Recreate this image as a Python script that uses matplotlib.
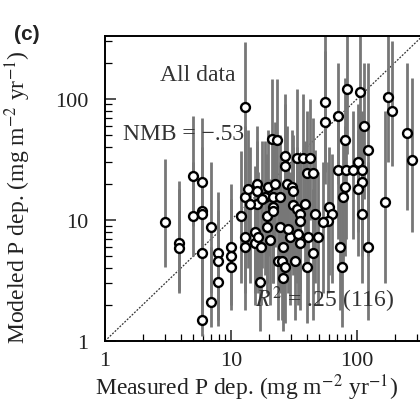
import numpy as np
import matplotlib
matplotlib.use("Agg")
import matplotlib.pyplot as plt

# measured vs modeled P deposition (mg m-2 yr-1), with model range per site
meas = [3.0, 3.9, 3.9, 5.0, 5.0, 5.9, 5.9, 5.9, 5.9, 5.9, 6.9, 6.9, 7.9, 7.9, 7.9,
        10, 10, 10, 12, 12.9, 12.9, 12.9, 12.9,
        13.6, 16.1, 16.1, 16.1, 18.6, 19.7, 21.5, 21.5, 22.4, 19.3, 19.3, 15.5, 15.5,
        16.4, 17.3, 20.4, 21, 23, 17.0, 23.6, 24.5, 21.5,
        26.8, 26.8, 33.4, 37.3, 42.4, 40.1, 44.8, 27.8, 30.5, 31.0, 31.0, 33.4, 35.3,
        35.3, 29.4, 34.0, 35.3, 40.8, 49, 25.9, 44.8, 25.4, 26.8, 32.2, 40.1, 25.9,
        55.7, 55.7, 70.7, 83.3, 106, 80.3, 70.7, 81.8, 80.3, 77.4, 60, 63.4, 58.9,
        53.7, 73.3, 76, 114, 122, 102, 93, 110, 110, 102, 110, 122, 176, 190, 167,
        249, 273,
        17.6, 14.2, 24.5, 28.4, 38.6, 46.4]
model = [9.7, 6.4, 5.9, 23, 10.8, 20.6, 11.9, 11.3, 5.3, 1.5, 8.8, 2.1, 5.3, 4.6, 3.1,
         6.0, 5.0, 4.1, 10.8, 86, 15.5, 7.3, 6.0,
         18, 20, 17.2, 13.6, 15.5, 18.7, 15.5, 12.9, 20, 10.8, 8.8, 8.0, 6.4,
         7.3, 6.0, 6.8, 46.7, 45.4, 3.1, 4.6, 15.5, 11.9,
         33.8, 27.9, 32.5, 32.5, 32.5, 24.5, 24.5, 20, 18.7, 17.2, 13.4, 12.3, 11.3,
         9.8, 7.3, 7.7, 6.4, 7.3, 7.3, 6.0, 5.3, 4.6, 4.1, 4.6, 4.1, 3.3,
         94, 64.6, 72, 121, 114, 45.4, 25.7, 25.7, 18.7, 15.5, 12.9, 11.3, 9.8,
         9.7, 6.0, 4.1, 59.8, 37.9, 30.2, 25.7, 25.7, 20.6, 18, 11.3, 6.0, 104, 80, 14.2,
         52.4, 31.3,
         14.9, 13.6, 8.8, 8.4, 13.6, 11.3]
model_lo = [4.1, 2.5, 2.6, 9, 5.0, 7, 4, 3, 1.6, 1.1, 2.5, 1.3, 2.0, 1.5, 1.33,
            2.2, 1.8, 2.0, 3, 20, 3, 2.5, 1.8,
            4, 5, 4, 3, 3.5, 5, 4, 3, 6, 3, 2.5, 2.5, 2,
            2.5, 2, 2, 12, 14, 1.2, 1.5, 4, 3,
            10, 8, 9, 9, 10, 7, 6, 5, 5, 4, 3.5, 3, 3,
            2.5, 2, 2, 1.8, 2, 2, 1.8, 1.5, 1.5, 1.4, 1.5, 1.4, 1.2,
            25, 20, 20, 35, 30, 12, 7, 7, 5, 4, 3.5, 3, 2.5,
            2.5, 1.8, 1.3, 15, 5, 8, 7, 7, 5, 5, 3, 1.5, 30, 28, 3,
            12, 8,
            4, 3, 2.5, 2.5, 4, 3]
model_hi = [32, 21, 18, 72, 30, 70, 40, 28, 14, 4, 30, 6, 17, 12, 8,
            20, 15, 12, 37, 296, 60, 30, 25,
            55, 60, 45, 40, 45, 55, 50, 38, 65, 35, 30, 28, 22,
            25, 20, 22, 146, 146, 8, 15, 50, 35,
            110, 90, 120, 110, 100, 80, 70, 60, 55, 50, 40, 40, 35,
            30, 25, 25, 22, 25, 25, 20, 18, 15, 14, 15, 14, 10,
            330, 250, 200, 330, 330, 150, 80, 80, 60, 50, 40, 35, 30,
            30, 20, 14, 200, 200, 90, 80, 80, 60, 55, 35, 30, 330, 300, 80,
            200, 150,
            45, 40, 30, 28, 45, 38]

plt.rcParams['font.family'] = ['Liberation Serif', 'DejaVu Serif']
plt.rcParams['mathtext.fontset'] = 'stix'

fig = plt.figure(figsize=(4.2, 4.06), dpi=100)
ax_w = 0.77
ax = fig.add_axes([0.25, 0.1576, ax_w, 0.7512])

ax.set_xscale('log')
ax.set_yscale('log')
ax.set_xlim(1, 10 ** (ax_w * 420 / 126))
ax.set_ylim(1, 331)

# 1:1 line
ax.plot([1, 1000], [1, 1000], color='#333333', lw=0.9, ls=(0, (1.5, 1.2)), zorder=1)

ax.vlines(meas, model_lo, model_hi, color='#777777', lw=2.0, zorder=2)
ax.plot(meas, model, 'o', ms=6.4, mfc='white', mec='black', mew=1.7, zorder=3)

ax.set_xticks([1, 10, 100])
ax.set_xticklabels(['1', '10', '100'])
ax.set_yticks([1, 10, 100])
ax.set_yticklabels(['1', '10', '100'])
ax.tick_params(which='major', direction='in', length=8, width=1.1, labelsize=16,
               colors='#222222')
ax.tick_params(which='minor', direction='in', length=5, width=0.9)
ax.tick_params(axis='x', pad=7)
ax.tick_params(axis='y', pad=12)
for s in ax.spines.values():
    s.set_linewidth(1.4)

ax.set_xlabel('Measured P dep. (mg m$^{-2}$ yr$^{-1}$)', fontsize=17,
              color='#222222', va='center')
ax.set_ylabel('Modeled P dep. (mg m$^{-2}$ yr$^{-1}$)', fontsize=17,
              color='#222222', va='center')
ax.xaxis.set_label_coords(0.439, -0.151)
ax.yaxis.set_label_coords(-0.269, 0.475)

ax.text(0.17, 0.875, 'All data', transform=ax.transAxes, fontsize=17,
        va='center', color='#333333')
ax.text(0.056, 0.679, 'NMB = \u2212.53', transform=ax.transAxes, fontsize=17,
        va='center', color='#333333')
ax.text(0.464, 0.138, '$R^2$ = .25 (116)', transform=ax.transAxes, fontsize=17,
        va='center', color='#333333')

fig.text(0.033, 0.914, '(c)', fontsize=15, fontweight='bold', va='center',
         color='#222222', family=['Liberation Sans', 'DejaVu Sans'])

fig.savefig('out.png', dpi=100)
